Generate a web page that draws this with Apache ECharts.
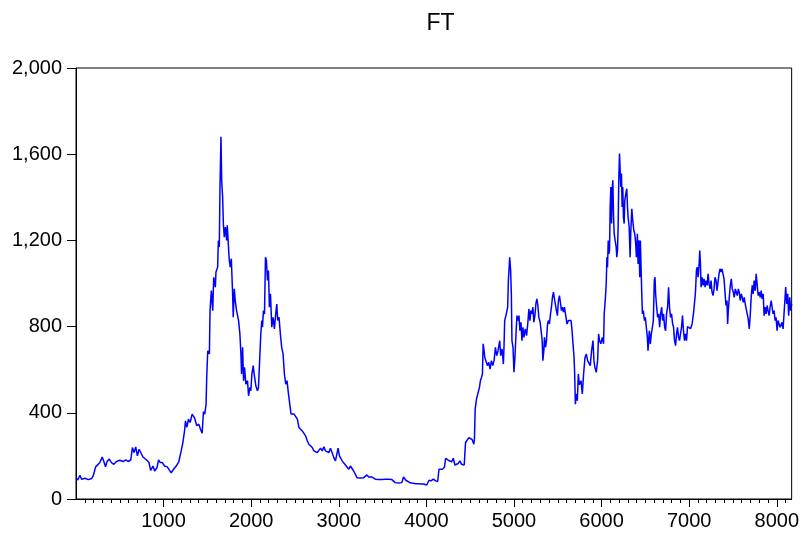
<!DOCTYPE html>
<html>
<head>
<meta charset="utf-8">
<script src="https://cdn.jsdelivr.net/npm/echarts@6/dist/echarts.min.js"></script>
<style>
html,body{margin:0;padding:0;background:#fff;}
#chart{width:802px;height:535px;}
</style>
</head>
<body>
<div id="chart"></div>
<script>
const obsA = [0,20,45,64,102,140,178,197,224,246,273,299,318,337,356,379,405,432,462,500,519,538,568,595,625,644,663,682,701,720,739,765,803,833,852,879,898,924,943,962,985,1011,1042,1068,1087,1114,1144,1174,1201,1220,1239,1250,1265,1284,1303,1326,1352,1379,1402,1421,1440];
const ftA  = [99,88,110,92,96,90,95,108,149,143,169,195,174,150,175,185,169,161,174,180,189,174,182,174,181,239,215,242,200,231,222,195,182,169,133,153,130,145,182,169,169,153,149,133,122,138,153,174,223,262,316,363,332,371,355,394,378,340,347,324,305];

const obsB = [1455,1470,1485,1492,1504,1523,1530,1545,1561,1572,1591,1598,1617,1625,1636,1644,1655,1663,1674,1682,1693,1705,1720,1727,1739,1750,1761,1773,1788,1795,1807,1818,1833,1856,1871,1883,1890,1902,1913,1924,1939,1958,1970,1985,1996,2008,2023,2034,2053,2072,2083,2098,2110,2121,2129,2140,2152,2163,2174,2186,2197,2208,2220,2235,2250,2265,2280,2292,2303,2318,2333,2348,2364,2379,2394,2409,2424,2439,2455,2470,2489,2508,2527,2545,2564,2583,2602,2621,2640,2659,2678,2697,2716,2735,2754,2773];
const ftB  = [405,394,440,560,688,673,874,967,874,1029,983,1053,1076,1200,1169,1448,1681,1479,1401,1278,1215,1262,1200,1270,1184,1107,1076,1115,952,843,975,921,874,828,766,673,580,704,549,611,533,549,479,518,502,580,619,580,526,502,518,657,766,828,797,874,858,1122,1107,1014,1060,890,952,797,843,789,858,905,828,843,766,704,673,580,533,549,494,486,394,401,394,394,371,332,324,316,309,293,270,254,261,239,223,223,215,223];

const obsC = [2792,2811,2830,2849,2867,2886,2905,2924,2943,2962,2981,2992,3008,3023,3038,3057,3076,3095,3114,3133,3152,3170,3189,3208,3227,3246,3265,3284,3303,3322,3341,3360,3379,3398,3417,3436,3455,3473,3492,3511,3530,3549,3568,3587,3606,3625,3644,3663,3682,3701,3720,3739,3751,3766,3784,3803,3826,3852,3879,3909,3939,3966,3985,4004,4015,4030,4053,4080,4106,4129,4144,4163,4182,4205,4220,4231,4250,4269,4288,4307,4326,4345,4364];
const ftC  = [236,223,242,223,231,215,236,215,192,177,184,236,200,189,177,180,158,161,138,153,146,130,122,99,92,97,92,99,107,112,102,104,102,97,92,97,90,94,90,94,92,99,92,97,90,87,76,71,74,71,76,102,97,87,84,78,74,73,71,71,70,70,68,65,60,87,84,92,84,81,138,143,138,146,189,196,180,186,172,189,158,162,165];

const obsD = [4383,4402,4420,4432,4447,4466,4485,4504,4523,4542,4549,4557,4572,4591,4606,4617,4629,4640,4648,4659,4667,4682,4697,4712,4727,4742,4758,4773,4788,4803,4818,4837,4848,4864,4879,4886,4894,4905,4917,4928,4936,4943,4951,4962,4970,4977,4989,5000,5011,5023,5034,5045,5057,5068,5080,5091,5102,5114,5129,5144,5159,5170,5182,5193,5205,5216,5227,5239,5250,5261,5273,5284,5299,5311,5322,5330,5341,5348,5360,5371,5383,5394,5405,5417,5428,5439,5451,5462,5473,5485,5496,5508,5519,5530,5542,5553,5564,5576,5591,5606,5621,5636,5652,5663,5674,5686,5693,5701,5712,5723];
const ftD  = [177,161,153,158,262,270,285,282,275,254,282,417,464,456,518,549,564,580,720,688,657,650,619,634,603,642,619,642,704,665,688,735,665,696,626,704,828,836,867,890,1014,1060,1122,1060,952,735,704,588,657,766,851,828,851,781,820,735,797,750,789,758,820,882,828,874,859,890,820,851,905,929,898,843,820,812,735,642,688,750,704,735,812,828,812,859,890,936,960,929,936,874,851,921,944,913,874,890,867,890,851,812,828,820,828,781,720,657,580,440,487,456];

const obsE = [5735,5746,5765,5780,5795,5811,5826,5841,5856,5871,5886,5902,5913,5924,5939,5955,5966,5977,5992,6008,6023,6030,6042,6053,6061,6068,6076,6083,6091,6098,6106,6114,6121,6129,6136,6144,6155,6167,6174,6182,6189,6197,6205,6212,6220,6227,6235,6242,6250,6258,6265,6277,6288,6296,6303,6315,6326,6333,6345,6356,6368,6379,6390,6398,6409,6417,6428,6436,6443,6451,6458,6466,6477,6489,6500,6511,6523,6530,6538,6545,6557,6568,6580,6591,6602,6610,6617,6629,6640,6652,6663,6674,6686,6697,6708,6720,6731,6742,6754,6765,6776,6788,6799,6811,6822,6833,6845,6856,6867,6879,6890,6901,6913,6924,6935,6947,6958,6970,6981,6996,7015];
const ftE  = [580,530,549,487,580,657,673,642,650,619,688,735,642,611,588,642,766,735,720,750,720,859,921,998,1122,1076,1200,1138,1153,1355,1448,1278,1433,1479,1324,1231,1200,1169,1122,1153,1262,1494,1603,1526,1448,1510,1355,1448,1308,1278,1386,1417,1440,1355,1308,1262,1122,1231,1347,1293,1247,1231,1184,1122,1231,1091,1200,1029,1200,1076,967,859,874,828,843,797,750,688,735,781,720,766,797,828,1014,1029,952,890,843,859,797,859,890,828,859,797,781,859,890,983,890,843,859,813,797,735,712,766,797,750,735,766,797,851,781,735,766,735,800,797,790];

const obsF = [7034,7053,7072,7083,7091,7102,7114,7121,7129,7136,7148,7159,7170,7182,7193,7205,7216,7227,7239,7250,7261,7273,7284,7295,7307,7318,7330,7341,7352,7364,7375,7386,7398,7409,7420,7432,7439,7447,7458,7470,7481,7492,7504,7515,7527,7538,7549,7561,7572,7583,7595,7606,7617,7629,7640,7651,7663,7674,7686,7697,7708,7720,7731,7742,7754,7765,7777,7788,7799,7811,7822,7833,7845,7856,7867,7879,7890,7901,7913,7924,7936,7947,7958,7970,7981,7992,8004,8015,8027,8038,8049,8061,8072,8083,8095,8102,8114,8125,8136,8148,8159,8170];
const ftF  = [812,874,960,1060,1076,1029,1091,1153,1091,983,1029,991,1022,983,1014,991,1045,998,975,1014,960,944,975,1029,1014,967,960,1045,1068,1053,1068,1045,1022,960,898,921,812,874,936,991,1022,975,960,936,975,967,944,975,960,921,952,936,913,936,905,882,890,836,789,851,936,991,952,1014,967,1045,991,944,960,936,967,929,952,851,890,859,898,874,851,890,921,890,859,874,828,843,781,828,812,797,805,820,789,781,936,983,905,952,851,936,874,905];

const xTickLabels = [1000,2000,3000,4000,5000,6000,7000,8000];
const yTickLabels = [0,400,800,1200,1600,2000];

const obs = [].concat(obsA, obsB, obsC, obsD, obsE, obsF);
const ft = [].concat(ftA, ftB, ftC, ftD, ftE, ftF);
const seriesData = obs.map((x, i) => [x, ft[i]]);

const xMax = 8170;
const minorTicks = [];
for (let v = 100; v < xMax; v += 100) { if (v % 1000 !== 0) minorTicks.push(v); }

const FONT = 'Liberation Sans, Arial, sans-serif';
const chart = echarts.init(document.getElementById('chart'), null, {renderer: 'canvas'});
chart.setOption({
  animation: false,
  backgroundColor: '#ffffff',
  title: {
    text: 'FT',
    left: 435.5,
    top: 7,
    textAlign: 'center',
    textStyle: {fontFamily: FONT, fontSize: 23, fontWeight: 'normal', color: '#000'}
  },
  grid: {
    left: 76, right: 7, top: 68, bottom: 36,
    show: true, borderColor: '#000', borderWidth: 1, backgroundColor: 'transparent'
  },
  xAxis: [{
    type: 'value', min: 0, max: xMax, position: 'bottom',
    axisLine: {show: true, onZero: false, lineStyle: {color: '#000', width: 1}},
    axisTick: {show: true, length: 8, inside: false, customValues: xTickLabels, lineStyle: {color: '#000'}},
    axisLabel: {show: true, customValues: xTickLabels, margin: 12, color: '#000', fontFamily: FONT, fontSize: 20,
      formatter: v => String(v)},
    splitLine: {show: false}
  }, {
    type: 'value', min: 0, max: xMax, position: 'bottom',
    axisLine: {show: false},
    axisTick: {show: true, length: 4, inside: false, customValues: minorTicks, lineStyle: {color: '#000'}},
    axisLabel: {show: false},
    splitLine: {show: false}
  }],
  yAxis: {
    type: 'value', min: 0, max: 2000, interval: 400,
    axisLine: {show: true, lineStyle: {color: '#000', width: 1}},
    axisTick: {show: true, length: 9, inside: false, lineStyle: {color: '#000'}},
    axisLabel: {
      margin: 14, color: '#000', fontFamily: FONT, fontSize: 20,
      formatter: v => v.toLocaleString('en-US')
    },
    splitLine: {show: false}
  },
  series: [{
    type: 'line',
    xAxisIndex: 0,
    data: seriesData,
    showSymbol: false,
    symbol: 'none',
    lineStyle: {color: '#0000ff', width: 1.5},
    itemStyle: {color: '#0000ff'}
  }]
});
</script>
</body>
</html>
